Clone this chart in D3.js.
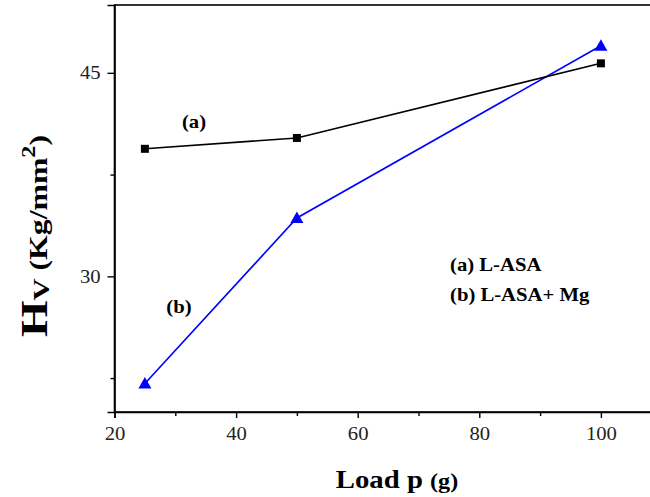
<!DOCTYPE html>
<html lang="en">
<head>
<meta charset="UTF-8">
<title>Hv vs Load</title>
<script src="https://d3js.org/d3.v7.min.js"></script>
<style>
    body { margin: 0; background: white; }
    svg { display: block; }
    text { font-family: "Liberation Serif", "Times New Roman", serif; }
</style>
</head>
<body>
<svg id="vis"></svg>
<script>
    const loads = [25, 50, 100];
    const seriesA = [39.4, 40.2, 45.7];   // (a) L-ASA
    const seriesB = [22.1, 34.3, 47.0];   // (b) L-ASA+ Mg
    const xTicks = [20, 30, 40, 50, 60, 70, 80, 90, 100, 110];
    const xLabels = [20, 40, 60, 80, 100];
    const yTicks = [22.5, 30, 37.5, 45];
    const yLabels = [30, 45];
    const legendLines = ["(a) L-ASA", "(b) L-ASA+ Mg"];

    const width = 650, height = 497;
    const svg = d3.select("#vis").attr("width", width).attr("height", height);
    const SX = 1.15; // glyphs in the source are a bit wide

    const x = d3.scaleLinear().domain([20, 110]).range([114.5, 661.7]);
    const y = d3.scaleLinear().domain([20, 50]).range([412, 5]);

    // frame
    svg.append("rect")
        .attr("x", x(20)).attr("y", y(50))
        .attr("width", x(110) - x(20)).attr("height", y(20) - y(50))
        .attr("fill", "none").attr("stroke", "#000").attr("stroke-width", 1.6);

    // x axis
    const gx = svg.append("g").attr("transform", `translate(0,${y(20)})`)
        .call(d3.axisBottom(x).tickValues(xTicks).tickSizeOuter(0)
            .tickSize(6).tickPadding(9)
            .tickFormat(d => xLabels.includes(d) ? d : ""));
    gx.select(".domain").attr("stroke-width", 1.6);
    gx.selectAll(".tick line").attr("stroke-width", 1.4)
        .attr("y2", d => xLabels.includes(d) ? 6 : 4);
    gx.selectAll(".tick text").attr("font-size", 18)
        .attr("transform", `scale(${SX},1)`).attr("fill", "#222");

    // y axis
    const gy = svg.append("g").attr("transform", `translate(${x(20)},0)`)
        .call(d3.axisLeft(y).tickValues(yTicks).tickSizeOuter(0)
            .tickSize(7).tickPadding(5)
            .tickFormat(d => yLabels.includes(d) ? d : ""));
    gy.select(".domain").attr("stroke-width", 1.6);
    gy.selectAll(".tick line").attr("stroke-width", 1.4)
        .attr("x2", d => yLabels.includes(d) ? -7 : -4);
    gy.selectAll(".tick text").attr("font-size", 18)
        .attr("transform", `scale(${SX},1)`).attr("fill", "#222");

    const line = d3.line().x((d, i) => x(loads[i])).y(d => y(d));

    // series (b) blue with triangles
    svg.append("path").datum(seriesB).attr("d", line)
        .attr("fill", "none").attr("stroke", "#0000ff").attr("stroke-width", 1.6);
    svg.selectAll(".tri").data(seriesB).join("path")
        .attr("class", "tri")
        .attr("transform", (d, i) => `translate(${x(loads[i])},${y(d)})`)
        .attr("d", "M0,-6.5L6.5,5L-6.5,5Z")
        .attr("fill", "#0000ff");

    // series (a) black with squares
    svg.append("path").datum(seriesA).attr("d", line)
        .attr("fill", "none").attr("stroke", "#000").attr("stroke-width", 1.6);
    svg.selectAll(".sq").data(seriesA).join("rect")
        .attr("class", "sq")
        .attr("x", (d, i) => x(loads[i]) - 4).attr("y", d => y(d) - 4)
        .attr("width", 8).attr("height", 8)
        .attr("fill", "#000");

    function label(txt, px, py, size, anchor) {
        return svg.append("text")
            .attr("transform", `translate(${px},${py}) scale(${SX},1)`)
            .attr("text-anchor", anchor || "start")
            .attr("font-size", size).attr("font-weight", "bold")
            .text(txt);
    }

    label("(a)", 194, 128, 18, "middle");
    label("(b)", 179, 313, 18, "middle");
    legendLines.forEach((t, i) => label(t, 450, 271 + i * 30, 18));

    // x title
    const xt = svg.append("text")
        .attr("transform", `translate(397,488) scale(${SX},1)`)
        .attr("text-anchor", "middle").attr("font-weight", "bold");
    xt.append("tspan").attr("font-size", 25).text("Load p ");
    xt.append("tspan").attr("font-size", 21).text("(g)");

    // y title (stretched along its length like the source)
    const yt = svg.append("text")
        .attr("transform", `translate(47,236) rotate(-90) scale(1.27,1)`)
        .attr("text-anchor", "middle").attr("font-weight", "bold");
    yt.append("tspan").attr("font-size", 37).text("H");
    yt.append("tspan").attr("font-size", 24).attr("dy", 2).text("V");
    yt.append("tspan").attr("font-size", 25).attr("dy", -2).text(" (Kg/mm");
    yt.append("tspan").attr("font-size", 19).attr("dy", -12).text("2");
    yt.append("tspan").attr("font-size", 25).attr("dy", 12).text(")");
</script>
</body>
</html>
